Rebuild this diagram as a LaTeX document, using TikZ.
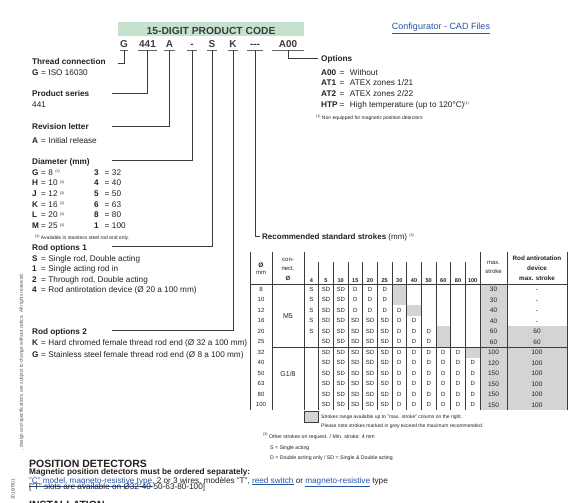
\documentclass[tikz,border=0pt]{standalone}
\usepackage{fontspec}
\setmainfont{Liberation Sans}
\usetikzlibrary{calc}
\definecolor{ink}{RGB}{35,31,32}
\definecolor{hdr}{RGB}{197,226,207}
\definecolor{cellgrey}{RGB}{212,212,212}
\definecolor{linkblue}{RGB}{35,85,165}
\definecolor{rulec}{RGB}{60,60,60}
\newcommand{\fsz}[1]{\fontsize{#1}{#1}\selectfont}
\newcommand{\fnm}[1]{\raisebox{2.2pt}{\fontsize{3.6}{4}\selectfont(#1)}}
\newcommand{\kvl}[3]{\makebox[#1][l]{\bfseries #2}=\hspace{2.5pt}#3}
\newcommand{\lnk}[1]{\textcolor{linkblue}{\underline{#1}}}
\begin{document}
\begin{tikzpicture}[x=1pt,y=-1pt,
  every node/.style={text=ink},
  txt/.style={anchor=base west, inner sep=0pt, font=\fsz{8.2}},
  lbl/.style={txt, font=\fsz{8.2}\bfseries},
  code/.style={anchor=base, inner xsep=0pt, inner ysep=2.5pt, text depth=0pt, font=\fsz{10}\bfseries, text=rulec},
  uline/.style={draw=rulec!80, line width=0.9pt},
  conn/.style={draw=rulec, line width=0.8pt},
  cell/.style={anchor=base, inner sep=0pt, font=\fsz{6}},
  big/.style={anchor=base, inner sep=0pt, font=\fsz{6.5}},
  hcell/.style={anchor=base, inner sep=0pt, font=\fsz{5.6}\bfseries},
  tb/.style={draw=rulec, line width=0.8pt},
  tsep/.style={draw=rulec, line width=0.45pt},
  small/.style={anchor=base west, inner sep=0pt, font=\fsz{5}}]
\useasboundingbox (0,0) rectangle (586,503);

% ---------- header band and link
\fill[hdr] (118,22) rectangle (304,36);
\node[anchor=base, inner sep=0pt, font=\fsz{10.3}\bfseries, text=rulec] (title) at (211,34.5) {15-DIGIT PRODUCT CODE};
\node[anchor=base, inner sep=0pt, font=\fsz{9}] (link) at (441,29.5) {\lnk{Configurator - CAD Files}};

% ---------- code letters
\node[code, minimum width=8pt] (cG) at (124,47.6) {G};
\node[code, minimum width=19pt] (c441) at (147.5,47.6) {441};
\node[code, minimum width=11pt] (cA) at (169.5,47.6) {A};
\node[code, minimum width=10pt] (cD) at (192,47.6) {-};
\node[code, minimum width=10pt] (cS) at (212,47.6) {S};
\node[code, minimum width=10pt] (cK) at (233,47.6) {K};
\node[code, minimum width=16pt] (c3) at (255,47.6) {{-}{-}{-}};
\node[code, minimum width=32pt] (cA00) at (288,47.6) {A00};
\foreach \n in {cG,c441,cA,cD,cS,cK,c3,cA00}
  \draw[uline] (\n.south west) -- (\n.south east);

% ---------- connector ends
\coordinate (eG) at (118,63);
\coordinate (e441) at (112,93);
\coordinate (eA) at (112,126);
\coordinate (eD) at (112,160.5);
\coordinate (eS) at (112,246.5);
\coordinate (eK) at (112,330.5);
\coordinate (e3) at (260,236);
\coordinate (eA00) at (318,58.5);
\draw[conn] (cG.south) |- (eG);
\draw[conn] (c441.south) |- (e441);
\draw[conn] (cA.south) |- (eA);
\draw[conn] (cD.south) |- (eD);
\draw[conn] (cS.south) |- (eS);
\draw[conn] (cK.south) |- (eK);
\draw[conn] (c3.south) |- (e3);
\draw[conn] (cA00.south) |- (eA00);

% ---------- left labels
\node[lbl] (lThr) at (32,65) {Thread connection};
\node[txt] (lThr1) at (32,75) {\kvl{9pt}{G}{ISO 16030}};
\node[lbl] (lSer) at (32,96) {Product series};
\node[txt] (lSer1) at (32,107) {441};
\node[lbl] (lRev) at (32,129) {Revision letter};
\node[txt] (lRev1) at (32,143) {\kvl{9pt}{A}{Initial release}};
\node[lbl] (lDia) at (32,164.5) {Diameter (mm)};
\foreach \k/\y/\l/\lv/\r/\rv in {1/175/G/8/3/32, 2/185.7/H/10/4/40, 3/196.3/J/12/5/50, 4/207/K/16/6/63, 5/217.7/L/20/8/80, 6/228.3/M/25/1/100}{
  \node[txt] (dl\k) at (32,\y) {\kvl{9pt}{\l}{\lv\ \fnm{2}}};
  \node[txt] (dr\k) at (94,\y) {\kvl{10.5pt}{\r}{\rv}};
}
\node[small] (lDiaFn) at (35,239.5) {\fnm{2} Available in stainless steel rod end only.};
\node[lbl] (lRo1) at (32,250) {Rod options 1};
\node[txt] (lRo1a) at (32,261) {\kvl{9pt}{S}{Single rod, Double acting}};
\node[txt] (lRo1b) at (32,271.3) {\kvl{9pt}{1}{Single acting rod in}};
\node[txt] (lRo1c) at (32,282) {\kvl{9pt}{2}{Through rod, Double acting}};
\node[txt] (lRo1d) at (32,292.3) {\kvl{9pt}{4}{Rod antirotation device (Ø 20 a 100 mm)}};
\node[lbl] (lRo2) at (32,334) {Rod options 2};
\node[txt] (lRo2a) at (32,345) {\kvl{9pt}{K}{Hard chromed female thread rod end (Ø 32 a 100 mm)}};
\node[txt] (lRo2b) at (32,357) {\kvl{9pt}{G}{Stainless steel female thread rod end (Ø 8 a 100 mm)}};

% ---------- options
\node[lbl] (lOpt) at (321,61.5) {Options};
\node[txt] (o1) at (321,75) {\kvl{18.5pt}{A00}{\hspace{3pt}Without}};
\node[txt] (o2) at (321,85) {\kvl{18.5pt}{AT1}{\hspace{3pt}ATEX zones 1/21}};
\node[txt] (o3) at (321,96) {\kvl{18.5pt}{AT2}{\hspace{3pt}ATEX zones 2/22}};
\node[txt] (o4) at (321,107) {\kvl{18.5pt}{HTP}{\hspace{3pt}High temperature (up to 120°C)\fnm{1}}};
\node[small] (oFn) at (316,119.5) {\fnm{1} Non equipped for magnetic position detectors};

% ---------- recommended strokes table
\node[txt, font=\fsz{8}] (lRec) at (262,239) {{\bfseries Recommended standard strokes} (mm) \fnm{3}};

% grey fills
\fill[cellgrey] (392,284) rectangle (406.67,305);
\fill[cellgrey] (406.67,305) rectangle (421.33,315.5);
\fill[cellgrey] (436,326) rectangle (450.67,347);
\fill[cellgrey] (465.33,347) rectangle (480,357.5);
\fill[cellgrey] (480,284) rectangle (507,410);
\fill[cellgrey] (507,326) rectangle (567,410);

% lines
\foreach \x in {250,272,304,480,507,567}
  \draw[tb] (\x,252) -- (\x,410);
\foreach \k in {1,...,11}
  \draw[tsep] ({304+14.667*\k},262) -- ({304+14.667*\k},410);
\draw[tb] (250,284) -- (567,284);
\draw[tb] (272,347) -- (567,347);

% header
\node[anchor=base, inner sep=0pt, font=\fsz{6.5}\bfseries] (hO1) at (261,267) {Ø};
\node[anchor=base, inner sep=0pt, font=\fsz{6}] (hO2) at (261,274) {mm};
\node[anchor=base, inner sep=0pt, font=\fsz{6}] (hC1) at (288,261) {con-};
\node[anchor=base, inner sep=0pt, font=\fsz{6}] (hC2) at (288,270) {nect.};
\node[anchor=base, inner sep=0pt, font=\fsz{6}\bfseries] (hC3) at (288,280) {Ø};
\foreach \h [count=\k from 0] in {4,5,10,15,20,25,30,40,50,60,80,100}
  \node[hcell] (h-\k) at ({304+14.667*(\k+0.5)},282) {\h};
\node[anchor=base, inner sep=0pt, font=\fsz{6}] (hM1) at (493.5,264) {max.};
\node[anchor=base, inner sep=0pt, font=\fsz{6}] (hM2) at (493.5,273) {stroke};
\node[anchor=base, inner sep=0pt, font=\fsz{6.3}\bfseries] (hR1) at (537,260.5) {Rod antirotation};
\node[anchor=base, inner sep=0pt, font=\fsz{6.3}\bfseries] (hR2) at (537,270.5) {device};
\node[anchor=base, inner sep=0pt, font=\fsz{6.3}\bfseries] (hR3) at (537,280.5) {max. stroke};

% rows: diameter, max stroke, rod antirotation
\foreach \r/\d/\m/\rod in {0/8/30/-, 1/10/30/-, 2/12/40/-, 3/16/40/-, 4/20/60/60, 5/25/60/60, 6/32/100/100, 7/40/120/100, 8/50/150/100, 9/63/150/100, 10/80/150/100, 11/100/150/100}{
  \node[cell] (d-\r) at (261,{284+10.5*(\r+0.5)+2.2}) {\d};
  \node[big] (m-\r) at (493.5,{284+10.5*(\r+0.5)+2.4}) {\m};
  \node[big] (rd-\r) at (537,{284+10.5*(\r+0.5)+2.4}) {\rod};
}
\node[anchor=base, inner sep=0pt, font=\fsz{7}] (cM5) at (288,318) {M5};
\node[anchor=base, inner sep=0pt, font=\fsz{7}] (cG18) at (288,376) {G1/8};

% stroke cells
\foreach \r/\s/\vals in {
  0/0/{S,SD,SD,D,D,D},
  1/0/{S,SD,SD,D,D,D},
  2/0/{S,SD,SD,D,D,D,D},
  3/0/{S,SD,SD,SD,SD,SD,D,D},
  4/0/{S,SD,SD,SD,SD,SD,D,D,D},
  5/1/{SD,SD,SD,SD,SD,D,D,D},
  6/1/{SD,SD,SD,SD,SD,D,D,D,D,D},
  7/1/{SD,SD,SD,SD,SD,D,D,D,D,D,D},
  8/1/{SD,SD,SD,SD,SD,D,D,D,D,D,D},
  9/1/{SD,SD,SD,SD,SD,D,D,D,D,D,D},
  10/1/{SD,SD,SD,SD,SD,D,D,D,D,D,D},
  11/1/{SD,SD,SD,SD,SD,D,D,D,D,D,D}}{
  \foreach \cv [count=\k from \s] in \vals
    \node[cell] (t-\r-\k) at ({304+14.667*(\k+0.5)},{284+10.5*(\r+0.5)+2.2}) {\cv};
}

% legend
\node[draw=rulec, line width=0.6pt, fill=cellgrey, minimum width=14.67pt, minimum height=11pt, inner sep=0pt] (legbox) at (311.33,416.5) {};
\node[small] (leg1) at (321,418.5) {Strokes range available up to "max. stroke" column on the right.};
\node[small] (leg2) at (321,427) {Please note strokes marked in grey exceed the maximum recommended.};
\node[small, font=\fsz{5.2}] (fn1) at (263,438) {\fnm{3} Other strokes on request. / Min. stroke: 4 mm};
\node[small, font=\fsz{5.2}] (fn2) at (270,449) {S = Single acting};
\node[small, font=\fsz{5.2}] (fn3) at (270,459.5) {D = Double acting only / SD = Single \& Double acting};

% ---------- bottom text
\node[anchor=base west, inner sep=0pt, font=\fsz{10.5}\bfseries] (pd) at (29,467) {POSITION DETECTORS};
\node[anchor=base west, inner sep=0pt, font=\fsz{8.2}\bfseries] (pd1) at (29,474.5) {Magnetic position detectors must be ordered separately:};
\node[txt] (pd2) at (29,483) {\lnk{"C" model, magneto-resistive type}, 2 or 3 wires, modèles "T", \lnk{reed switch} or \lnk{magneto-resistive} type};
\node[txt] (pd3) at (29,489.7) {["T" slots are available on Ø32-40-50-63-80-100]};
\node[anchor=base west, inner sep=0pt, font=\fsz{10.5}\bfseries] (inst) at (29,508.5) {INSTALLATION};

% ---------- vertical copyright text
\node[rotate=90, anchor=base east, inner sep=0pt, font=\fsz{4.8}, text=ink!80] (cp1) at (23,273) {, design and specifications are subject to change without notice. All rights reserved.};
\node[rotate=90, anchor=base west, inner sep=0pt, font=\fsz{4.8}, text=ink!80] (cp2) at (14.5,500) {2016/R01};
\end{tikzpicture}
\end{document}
